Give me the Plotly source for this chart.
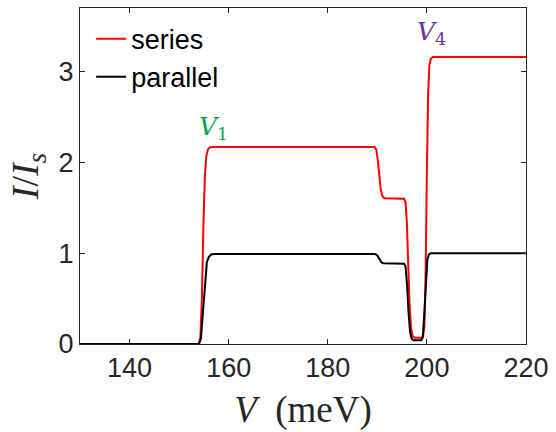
import plotly.graph_objects as go

# Current-voltage characteristics (normalised current vs bias)
v_series = [130, 154.0, 154.3, 154.6, 154.9, 155.2, 155.5, 155.8, 156.2, 156.8,
            189.4, 189.8, 190.1, 190.4, 190.7, 191.0, 191.4,
            195.4, 195.7, 195.95, 196.2, 196.5, 196.8, 197.1, 197.5,
            199.2, 199.5, 199.75, 200.0, 200.25, 200.5, 200.8, 201.2, 220]
i_series = [0, 0, 0.08, 0.5, 1.3, 1.85, 2.07, 2.14, 2.165, 2.17,
            2.17, 2.14, 2.02, 1.84, 1.70, 1.63, 1.605,
            1.6, 1.56, 1.35, 0.9, 0.45, 0.18, 0.09, 0.07,
            0.07, 0.2, 0.8, 1.9, 2.75, 3.07, 3.14, 3.16, 3.16]

v_parallel = [130, 154.0, 154.4, 154.8, 155.2, 155.6, 156.0, 156.5, 157.0,
              189.6, 190.0, 190.4, 190.8, 191.2,
              195.4, 195.7, 196.0, 196.3, 196.6, 196.9, 197.3,
              198.9, 199.2, 199.5, 199.8, 200.1, 200.4, 200.8, 220]
i_parallel = [0, 0, 0.06, 0.35, 0.72, 0.9, 0.96, 0.985, 0.99,
              0.99, 0.975, 0.93, 0.9, 0.89,
              0.885, 0.85, 0.65, 0.35, 0.14, 0.06, 0.04,
              0.04, 0.1, 0.35, 0.7, 0.93, 0.985, 1.0, 1.0]

x_ticks = [140, 160, 180, 200, 220]
y_ticks = [0, 1, 2, 3]

axis_color = "#262626"
math_font = "Liberation Serif"
sans = "Liberation Sans, Arial, sans-serif"
tick_font = dict(family=sans, size=27, color=axis_color)

fig = go.Figure()
fig.add_trace(go.Scatter(x=v_series, y=i_series, mode="lines", name="series",
                         line=dict(color="#ff0000", width=2)))
fig.add_trace(go.Scatter(x=v_parallel, y=i_parallel, mode="lines", name="parallel",
                         line=dict(color="#000000", width=2)))

axis_common = dict(showgrid=False, zeroline=False, showline=True, linecolor=axis_color,
                   linewidth=1, mirror="ticks", ticks="inside", ticklen=5,
                   tickcolor=axis_color, tickfont=tick_font)

fig.update_xaxes(range=[130, 220], tickvals=x_ticks, **axis_common,
                 title=dict(text="<i>V</i>  (meV)", standoff=13,
                            font=dict(family=math_font, size=37, color=axis_color)))
fig.update_yaxes(range=[0, 3.7], tickvals=y_ticks, **axis_common,
                 title=dict(text="<i>I</i>/<i>I</i><sub><i>s</i></sub>", standoff=8,
                            font=dict(family=math_font, size=38, color=axis_color)))

fig.add_annotation(x=157, y=2.38, text="<i>V</i><sub>1</sub>", showarrow=False,
                   font=dict(family="DejaVu Serif", size=25, color="#00a650"))
fig.add_annotation(x=200.9, y=3.42, text="<i>V</i><sub>4</sub>", showarrow=False,
                   font=dict(family="DejaVu Serif", size=25, color="#7030a0"))

fig.update_layout(
    width=556, height=432,
    margin=dict(l=80, r=26, t=7, b=88),
    paper_bgcolor="white", plot_bgcolor="white",
    legend=dict(x=0.025, y=0.98, xanchor="left", yanchor="top",
                bgcolor="rgba(0,0,0,0)", borderwidth=0,
                font=dict(family=sans, size=27, color="#000000"),
                itemwidth=30, tracegroupgap=0),
)

fig.write_html("out.html")
